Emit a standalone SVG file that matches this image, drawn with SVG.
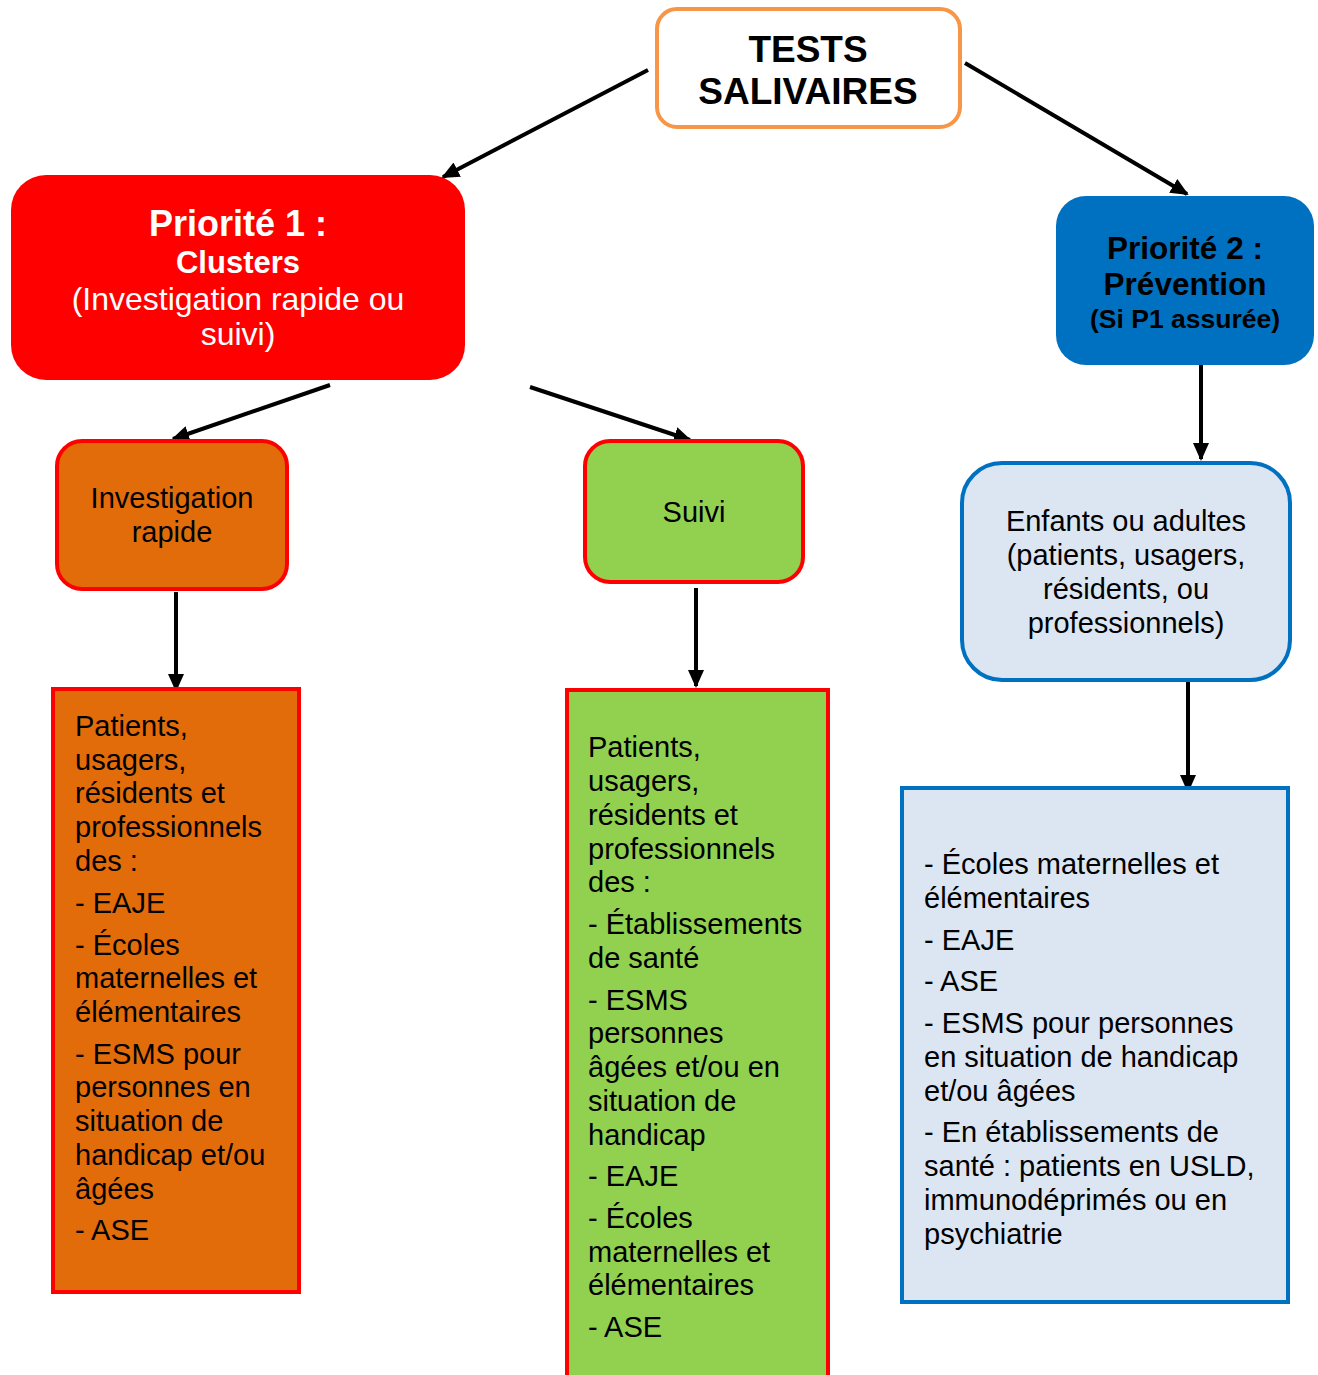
<svg xmlns="http://www.w3.org/2000/svg" width="1318" height="1375" viewBox="0 0 1318 1375">
<defs>
<marker id="ah" markerUnits="userSpaceOnUse" markerWidth="18" markerHeight="16" refX="16" refY="8" orient="auto">
<path d="M0,0 L18,8 L0,16 Z" fill="#000"/>
</marker>
<style>
text{font-family:"Liberation Sans",Arial,sans-serif;}
.c{text-anchor:middle;}
.b{font-weight:bold;}
.t29{font-size:29px;fill:#000;}
.conn line{stroke:#000;stroke-width:4;marker-end:url(#ah);}
</style>
</defs>
<rect width="1318" height="1375" fill="#fff"/>
<g id="connectors" class="conn">
<line x1="648" y1="70" x2="443" y2="177"/>
<line x1="965" y1="63" x2="1187" y2="194"/>
<line x1="330" y1="385" x2="173" y2="439"/>
<line x1="530" y1="387" x2="690" y2="440"/>
<line x1="1201" y1="362" x2="1201" y2="459"/>
<line x1="176" y1="592" x2="176" y2="690"/>
<line x1="696" y1="588" x2="696" y2="686"/>
<line x1="1188" y1="669" x2="1188" y2="791"/>
</g>
<g id="tests">
<rect x="657" y="9" width="303" height="118" rx="20" fill="#fff" stroke="#F79646" stroke-width="4"/>
<text class="c b" x="808" y="62" font-size="37">TESTS</text>
<text class="c b" x="808" y="104" font-size="37">SALIVAIRES</text>
</g>
<g id="p1">
<rect x="11" y="175" width="454" height="205" rx="35" fill="#FF0000"/>
<text class="c b" x="238" y="236" font-size="36" fill="#fff">Priorité 1 :</text>
<text class="c b" x="238" y="273" font-size="31" fill="#fff">Clusters</text>
<text class="c" x="238" y="310" font-size="32" fill="#fff">(Investigation rapide ou</text>
<text class="c" x="238" y="345" font-size="32" fill="#fff">suivi)</text>
</g>
<g id="p2">
<rect x="1056" y="196" width="258" height="169" rx="30" fill="#0070C0"/>
<text class="c b" x="1185" y="259" font-size="31.5">Priorité 2 :</text>
<text class="c b" x="1185" y="295" font-size="31.5">Prévention</text>
<text class="c b" x="1185" y="328" font-size="26.5">(Si P1 assurée)</text>
</g>
<g id="investigation">
<rect x="57" y="441" width="230" height="148" rx="25" fill="#E36C0A" stroke="#FF0000" stroke-width="4"/>
<text class="c t29" x="172" y="508">Investigation</text>
<text class="c t29" x="172" y="542">rapide</text>
</g>
<g id="suivi">
<rect x="585" y="441" width="218" height="141" rx="25" fill="#92D050" stroke="#FF0000" stroke-width="4"/>
<text class="c t29" x="694" y="522">Suivi</text>
</g>
<g id="enfants">
<rect x="962" y="463" width="328" height="217" rx="40" fill="#DCE6F2" stroke="#0070C0" stroke-width="4"/>
<text class="c t29" x="1126" y="531">Enfants ou adultes</text>
<text class="c t29" x="1126" y="565">(patients, usagers,</text>
<text class="c t29" x="1126" y="599">résidents, ou</text>
<text class="c t29" x="1126" y="633">professionnels)</text>
</g>
<g id="list-investigation">
<rect x="53" y="689" width="246" height="603" fill="#E36C0A" stroke="#FF0000" stroke-width="4"/>
<text class="t29" x="75" y="736">Patients,</text>
<text class="t29" x="75" y="770">usagers,</text>
<text class="t29" x="75" y="803">résidents et</text>
<text class="t29" x="75" y="837">professionnels</text>
<text class="t29" x="75" y="871">des :</text>
<text class="t29" x="75" y="913">- EAJE</text>
<text class="t29" x="75" y="955">- Écoles</text>
<text class="t29" x="75" y="988">maternelles et</text>
<text class="t29" x="75" y="1022">élémentaires</text>
<text class="t29" x="75" y="1064">- ESMS pour</text>
<text class="t29" x="75" y="1097">personnes en</text>
<text class="t29" x="75" y="1131">situation de</text>
<text class="t29" x="75" y="1165">handicap et/ou</text>
<text class="t29" x="75" y="1199">âgées</text>
<text class="t29" x="75" y="1240">- ASE</text>
</g>
<g id="list-suivi">
<rect x="567" y="690" width="261" height="700" fill="#92D050" stroke="#FF0000" stroke-width="4"/>
<text class="t29" x="588" y="757">Patients,</text>
<text class="t29" x="588" y="791">usagers,</text>
<text class="t29" x="588" y="825">résidents et</text>
<text class="t29" x="588" y="859">professionnels</text>
<text class="t29" x="588" y="892">des :</text>
<text class="t29" x="588" y="934">- Établissements</text>
<text class="t29" x="588" y="968">de santé</text>
<text class="t29" x="588" y="1010">- ESMS</text>
<text class="t29" x="588" y="1043">personnes</text>
<text class="t29" x="588" y="1077">âgées et/ou en</text>
<text class="t29" x="588" y="1111">situation de</text>
<text class="t29" x="588" y="1145">handicap</text>
<text class="t29" x="588" y="1186">- EAJE</text>
<text class="t29" x="588" y="1228">- Écoles</text>
<text class="t29" x="588" y="1262">maternelles et</text>
<text class="t29" x="588" y="1295">élémentaires</text>
<text class="t29" x="588" y="1337">- ASE</text>
</g>
<g id="list-prevention">
<rect x="902" y="788" width="386" height="514" fill="#DCE6F2" stroke="#0070C0" stroke-width="4"/>
<text class="t29" x="924" y="874">- Écoles maternelles et</text>
<text class="t29" x="924" y="908">élémentaires</text>
<text class="t29" x="924" y="950">- EAJE</text>
<text class="t29" x="924" y="991">- ASE</text>
<text class="t29" x="924" y="1033">- ESMS pour personnes</text>
<text class="t29" x="924" y="1067">en situation de handicap</text>
<text class="t29" x="924" y="1101">et/ou âgées</text>
<text class="t29" x="924" y="1142">- En établissements de</text>
<text class="t29" x="924" y="1176">santé : patients en USLD,</text>
<text class="t29" x="924" y="1210">immunodéprimés ou en</text>
<text class="t29" x="924" y="1244">psychiatrie</text>
</g>
</svg>
